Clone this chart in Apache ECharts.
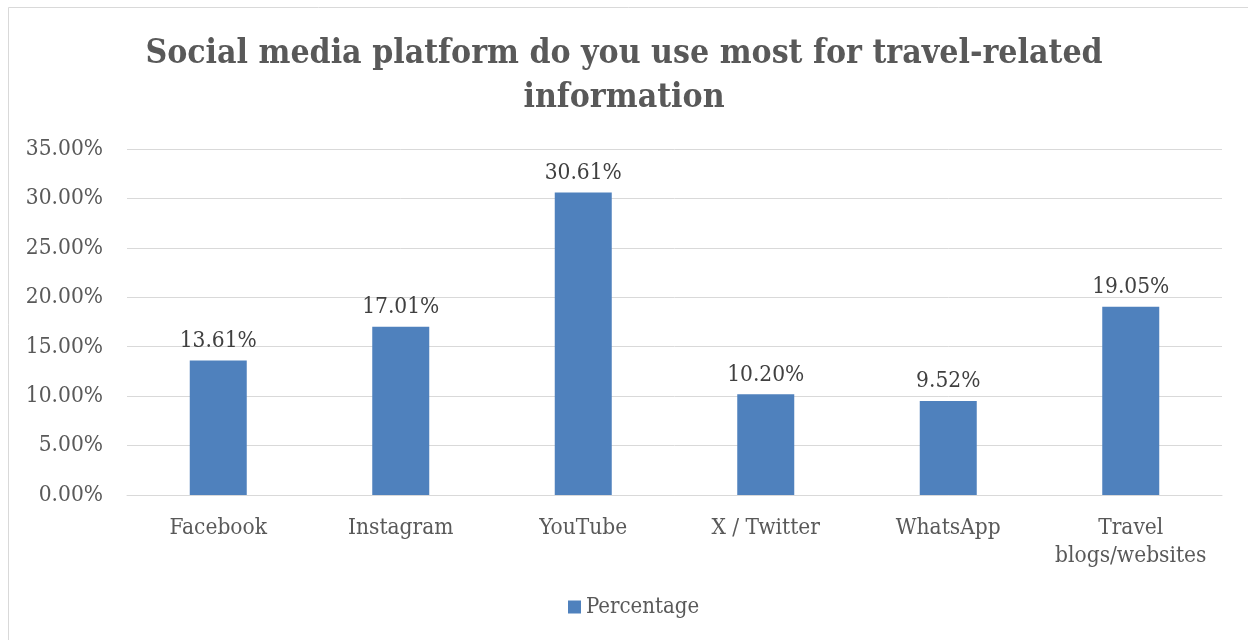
<!DOCTYPE html>
<html><head><meta charset="utf-8">
<script src="https://cdn.jsdelivr.net/npm/echarts@6/dist/echarts.min.js"></script>
<style>html,body{margin:0;padding:0;background:#fff}#c{width:1248px;height:640px}</style>
</head><body><div id="c"></div>
<script>
const categories = ['Facebook', 'Instagram', 'YouTube', 'X / Twitter', 'WhatsApp', 'Travel\nblogs/websites'];
const percentage = [13.61, 17.01, 30.61, 10.20, 9.52, 19.05];
const seriesName = 'Percentage';
const titleText = 'Social media platform do you use most for travel-related\ninformation';

const font = '"DejaVu Serif Condensed", "Liberation Serif", serif';
const chart = echarts.init(document.getElementById('c'));
chart.setOption({
  animation: false,
  backgroundColor: '#fff',
  graphic: [{
    type: 'rect', shape: {x: 8.5, y: 7.5, width: 1260, height: 660},
    style: {fill: 'none', stroke: '#d9d9d9', lineWidth: 1}, silent: true, z: -1
  }],
  title: {
    text: titleText, left: 'center', top: 27,
    textStyle: {fontFamily: font, fontWeight: 'bold', fontSize: 33.5, color: '#595959', lineHeight: 44}
  },
  legend: {
    bottom: 17, left: 563, itemWidth: 13, itemHeight: 13, icon: 'rect', itemGap: 5,
    textStyle: {fontFamily: font, fontSize: 22, color: '#595959'},
    data: [seriesName]
  },
  grid: {left: 127, right: 26, top: 149, bottom: 145, containLabel: false},
  xAxis: {
    type: 'category', data: categories,
    axisLine: {lineStyle: {color: '#d9d9d9', width: 1}},
    axisTick: {show: false},
    axisLabel: {fontFamily: font, fontSize: 22.5, color: '#595959', margin: 19, lineHeight: 28, interval: 0}
  },
  yAxis: {
    type: 'value', min: 0, max: 35, interval: 5,
    axisLine: {show: false}, axisTick: {show: false},
    splitLine: {lineStyle: {color: '#d9d9d9', width: 1}},
    axisLabel: {fontFamily: font, fontSize: 22.5, color: '#595959', margin: 24,
      formatter: v => v.toFixed(2) + '%'}
  },
  series: [{
    name: seriesName, type: 'bar', data: percentage, barWidth: 57,
    itemStyle: {color: '#4f81bd'},
    label: {show: true, position: 'top', distance: 8, fontFamily: font, fontSize: 22.5, color: '#404040',
      formatter: p => p.value.toFixed(2) + '%'}
  }]
});
</script></body></html>
